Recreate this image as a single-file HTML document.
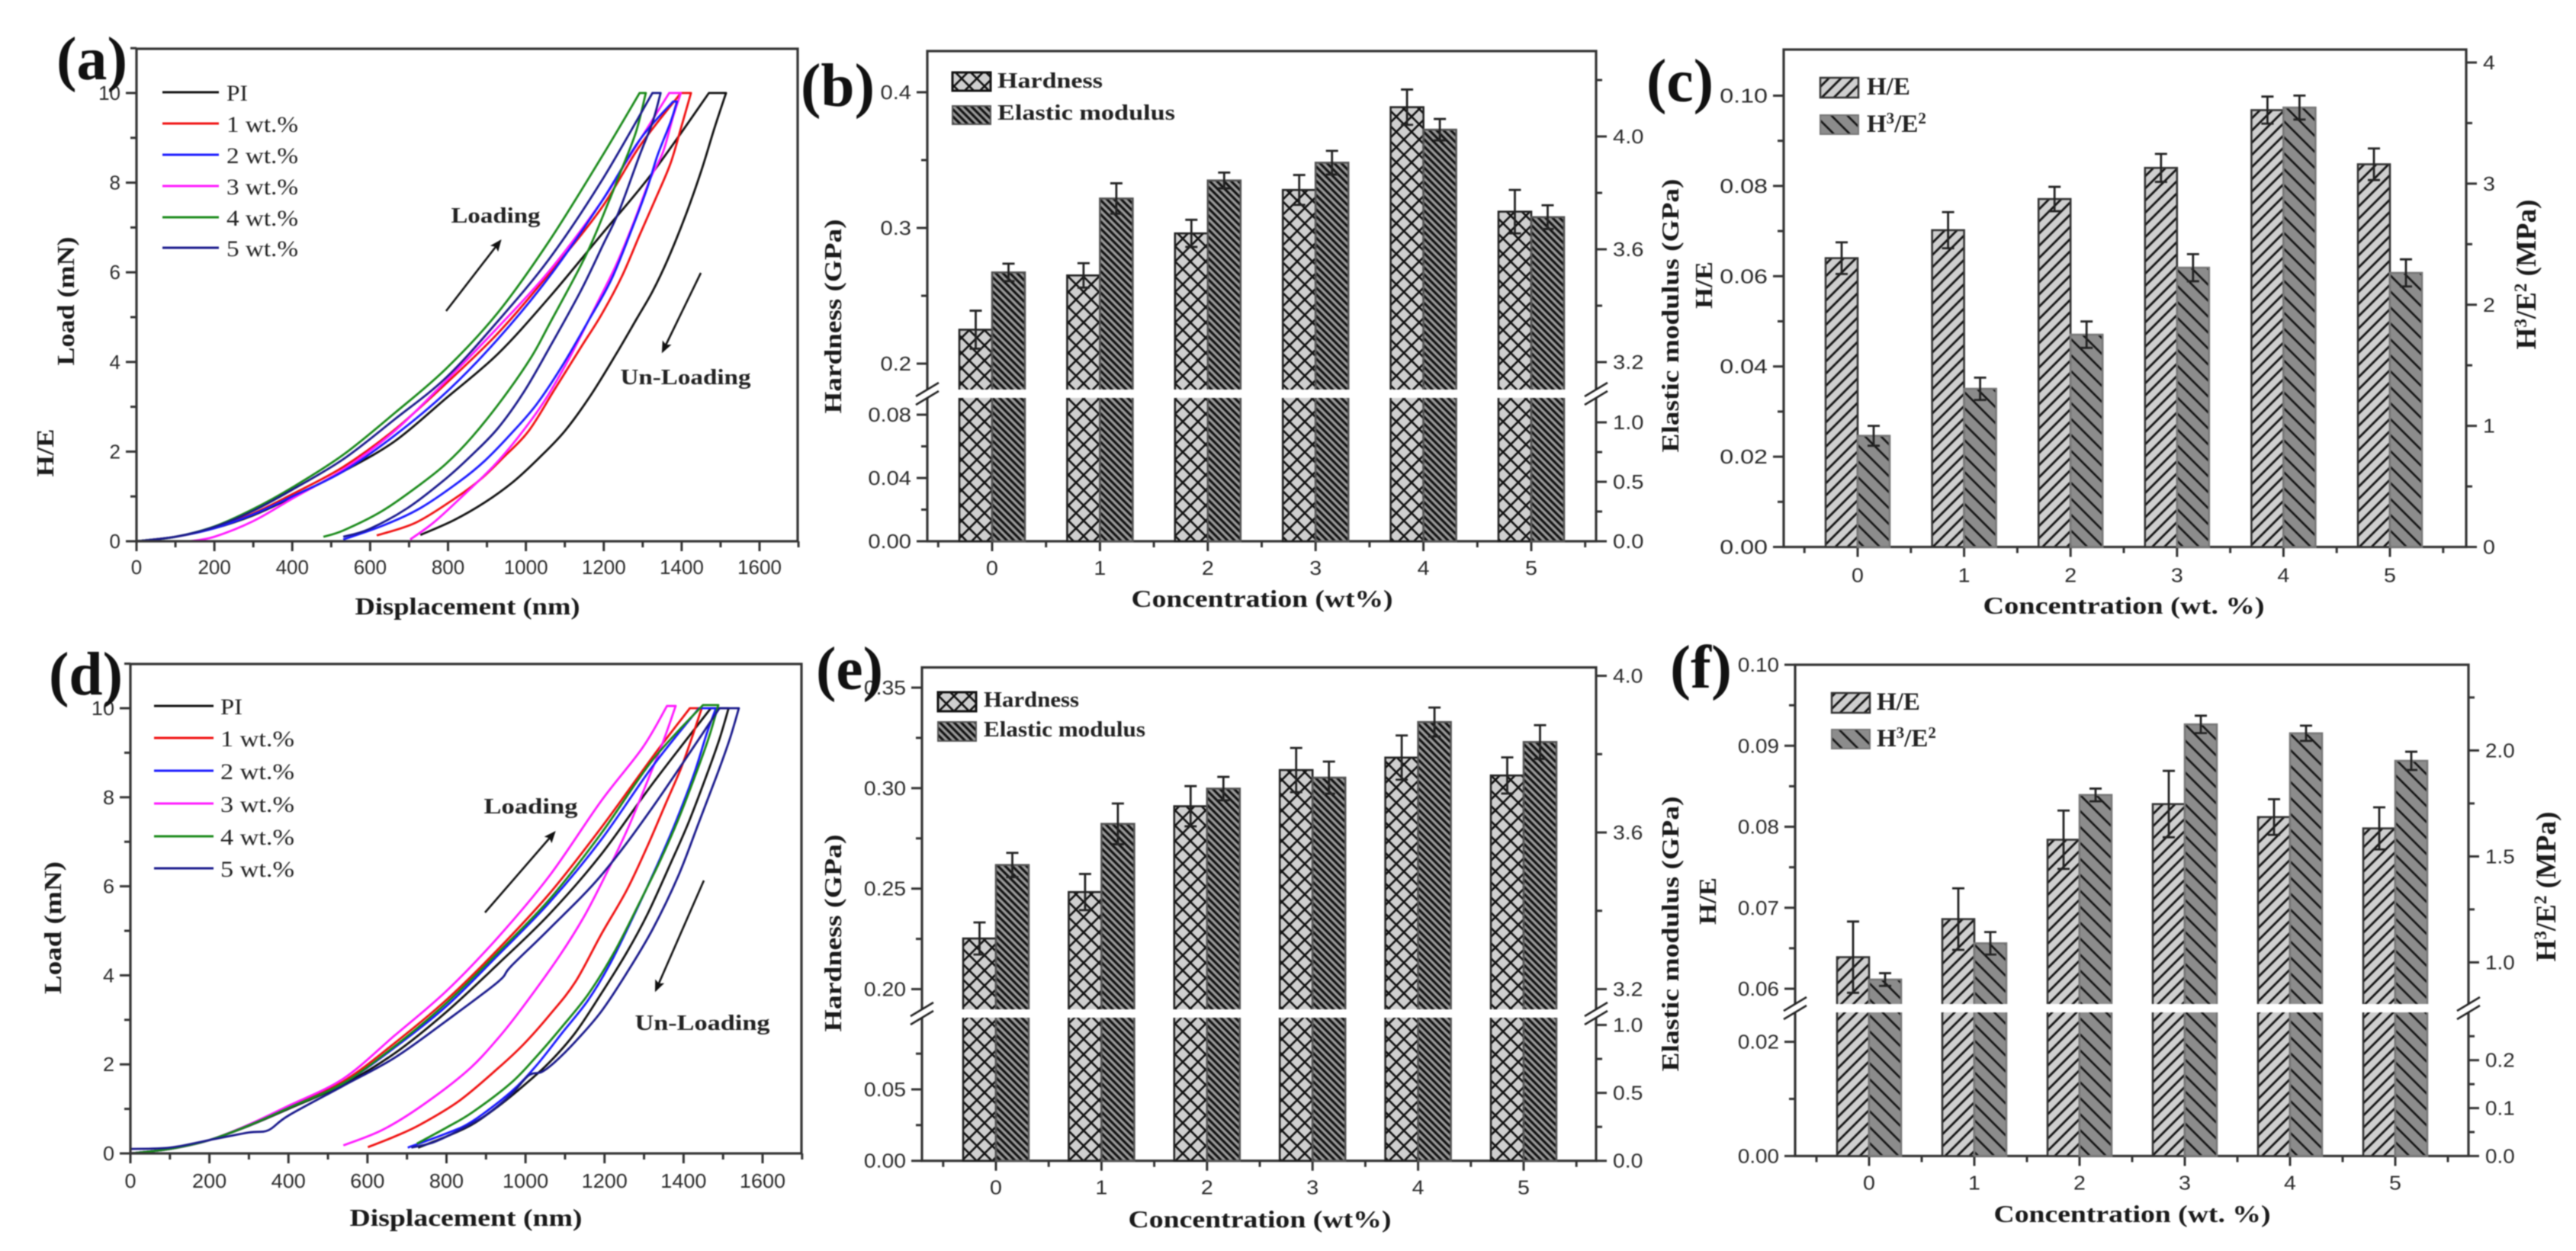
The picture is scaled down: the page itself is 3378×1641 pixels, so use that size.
<!DOCTYPE html>
<html lang="en">
<head>
<meta charset="utf-8">
<title>Nanoindentation load curves and mechanical properties</title>
<style>
html,body{margin:0;padding:0;background:#fff;width:3378px;height:1641px;overflow:hidden}
svg{display:block;filter:blur(0.8px)}
.title{font-family:"Liberation Serif",serif;font-weight:bold;font-size:32px;fill:#1a1a1a}
.title-wide{font-family:"Liberation Serif",serif;font-weight:bold;font-size:37px;fill:#1a1a1a}
.panel{font-family:"Liberation Serif",serif;font-weight:bold;font-size:80px;fill:#111}
.leg{font-family:"Liberation Serif",serif;font-size:30px;fill:#222}
.legb{font-family:"Liberation Serif",serif;font-weight:bold;font-size:29px;fill:#222}
.legr{font-family:"Liberation Serif",serif;font-weight:bold;font-size:33px;fill:#222}
.ann{font-family:"Liberation Serif",serif;font-weight:bold;font-size:29px;fill:#222}
.tick{font-family:"Liberation Sans",sans-serif;font-size:26px;fill:#2a2a2a}
</style>
</head>
<body>
<svg id="figure" xmlns="http://www.w3.org/2000/svg" width="3378" height="1641" viewBox="0 0 3378 1641">
<defs>
<pattern id="pCross" patternUnits="userSpaceOnUse" width="20" height="20" x="1" y="3">
<rect width="20" height="20" fill="#cfcfcf"/>
<path d="M0 0L20 20M20 0L0 20" stroke="#111" stroke-width="2.6" fill="none"/>
</pattern>
<pattern id="pDense" patternUnits="userSpaceOnUse" width="6.6" height="6.6" patternTransform="rotate(-45)">
<rect width="6.6" height="6.6" fill="#9a9a9a"/>
<line x1="3.3" y1="0" x2="3.3" y2="6.6" stroke="#111" stroke-width="3.2"/>
</pattern>
<pattern id="pFwd" patternUnits="userSpaceOnUse" width="11.3" height="11.3" patternTransform="rotate(45)">
<rect width="11.3" height="11.3" fill="#cfcfcf"/>
<line x1="5.6" y1="0" x2="5.6" y2="11.3" stroke="#111" stroke-width="2.8"/>
</pattern>
<pattern id="pBack" patternUnits="userSpaceOnUse" width="14.8" height="14.8" patternTransform="rotate(-45)">
<rect width="14.8" height="14.8" fill="#8c8c8c"/>
<line x1="7.4" y1="0" x2="7.4" y2="14.8" stroke="#111" stroke-width="2.6"/>
</pattern>
<marker id="arrowHead" markerWidth="6" markerHeight="6" refX="5" refY="2.5" orient="auto" markerUnits="strokeWidth">
<path d="M0 0L6 2.5L0 5L1.2 2.5Z" fill="#111"/>
</marker>
</defs>

<g id="panel-a"></g>
<g id="panel-b"></g>
<g id="panel-c"></g>
<g id="panel-d"></g>
<g id="panel-e"></g>
<g id="panel-f"></g>

<g>
<text class="panel" x="74" y="104" textLength="93" lengthAdjust="spacingAndGlyphs">(a)</text>
<text class="panel" x="1050" y="139" textLength="97" lengthAdjust="spacingAndGlyphs">(b)</text>
<text class="panel" x="2159" y="133" textLength="88" lengthAdjust="spacingAndGlyphs">(c)</text>
<text class="panel" x="64" y="911" textLength="97" lengthAdjust="spacingAndGlyphs">(d)</text>
<text class="panel" x="1070" y="904" textLength="88" lengthAdjust="spacingAndGlyphs">(e)</text>
<text class="panel" x="2190" y="902" textLength="81" lengthAdjust="spacingAndGlyphs">(f)</text>
</g>

<g>
<text class="title" x="613" y="806" text-anchor="middle" textLength="295" lengthAdjust="spacingAndGlyphs">Displacement (nm)</text>
<text class="title" transform="rotate(-90 97 395)" x="97" y="395" text-anchor="middle" textLength="169" lengthAdjust="spacingAndGlyphs">Load (mN)</text>
<text class="title" transform="rotate(-90 70 594)" x="70" y="594" text-anchor="middle" textLength="63" lengthAdjust="spacingAndGlyphs">H/E</text>

<text class="title" x="1655" y="796" text-anchor="middle" textLength="343" lengthAdjust="spacingAndGlyphs">Concentration (wt%)</text>
<text class="title" transform="rotate(-90 1103 415)" x="1103" y="415" text-anchor="middle" textLength="255" lengthAdjust="spacingAndGlyphs">Hardness (GPa)</text>
<text class="title" transform="rotate(-90 2201 414)" x="2201" y="414" text-anchor="middle" textLength="359" lengthAdjust="spacingAndGlyphs">Elastic modulus (GPa)</text>

<text class="title" x="2785" y="805" text-anchor="middle" textLength="369" lengthAdjust="spacingAndGlyphs">Concentration (wt. %)</text>
<text class="title" transform="rotate(-90 2245 374)" x="2245" y="374" text-anchor="middle" textLength="62" lengthAdjust="spacingAndGlyphs">H/E</text>
<text class="title-wide" transform="rotate(-90 3325 360)" x="3325" y="360" text-anchor="middle">H<tspan dy="-12" font-size="23">3</tspan><tspan dy="12">/E</tspan><tspan dy="-12" font-size="23">2</tspan><tspan dy="12"> (MPa)</tspan></text>

<text class="title" x="611" y="1608" text-anchor="middle" textLength="305" lengthAdjust="spacingAndGlyphs">Displacement (nm)</text>
<text class="title" transform="rotate(-90 80 1217)" x="80" y="1217" text-anchor="middle" textLength="174" lengthAdjust="spacingAndGlyphs">Load (mN)</text>

<text class="title" x="1652" y="1610" text-anchor="middle" textLength="345" lengthAdjust="spacingAndGlyphs">Concentration (wt%)</text>
<text class="title" transform="rotate(-90 1103 1224)" x="1103" y="1224" text-anchor="middle" textLength="259" lengthAdjust="spacingAndGlyphs">Hardness (GPa)</text>
<text class="title" transform="rotate(-90 2201 1225)" x="2201" y="1225" text-anchor="middle" textLength="361" lengthAdjust="spacingAndGlyphs">Elastic modulus (GPa)</text>

<text class="title" x="2796" y="1603" text-anchor="middle" textLength="363" lengthAdjust="spacingAndGlyphs">Concentration (wt. %)</text>
<text class="title" transform="rotate(-90 2250 1182)" x="2250" y="1182" text-anchor="middle" textLength="62" lengthAdjust="spacingAndGlyphs">H/E</text>
<text class="title-wide" transform="rotate(-90 3351 1163)" x="3351" y="1163" text-anchor="middle">H<tspan dy="-12" font-size="23">3</tspan><tspan dy="12">/E</tspan><tspan dy="-12" font-size="23">2</tspan><tspan dy="12"> (MPa)</tspan></text>
</g>

<g stroke-width="3" fill="none">
<line x1="213" y1="121" x2="287" y2="121" stroke="#111"/>
<line x1="213" y1="162" x2="287" y2="162" stroke="#f01010"/>
<line x1="213" y1="203" x2="287" y2="203" stroke="#1a1aff"/>
<line x1="213" y1="244" x2="287" y2="244" stroke="#ff19ff"/>
<line x1="213" y1="285" x2="287" y2="285" stroke="#1a8a1a"/>
<line x1="213" y1="325" x2="287" y2="325" stroke="#1a1a8c"/>
</g>
<g>
<text class="leg" x="297" y="132" textLength="28" lengthAdjust="spacingAndGlyphs">PI</text>
<text class="leg" x="297" y="173" textLength="94" lengthAdjust="spacingAndGlyphs">1 wt.%</text>
<text class="leg" x="297" y="214" textLength="94" lengthAdjust="spacingAndGlyphs">2 wt.%</text>
<text class="leg" x="297" y="255" textLength="94" lengthAdjust="spacingAndGlyphs">3 wt.%</text>
<text class="leg" x="297" y="296" textLength="94" lengthAdjust="spacingAndGlyphs">4 wt.%</text>
<text class="leg" x="297" y="336" textLength="94" lengthAdjust="spacingAndGlyphs">5 wt.%</text>
</g>

<g stroke-width="3" fill="none">
<line x1="202" y1="926" x2="280" y2="926" stroke="#111"/>
<line x1="202" y1="968" x2="280" y2="968" stroke="#f01010"/>
<line x1="202" y1="1011" x2="280" y2="1011" stroke="#1a1aff"/>
<line x1="202" y1="1054" x2="280" y2="1054" stroke="#ff19ff"/>
<line x1="202" y1="1097" x2="280" y2="1097" stroke="#1a8a1a"/>
<line x1="202" y1="1139" x2="280" y2="1139" stroke="#1a1a8c"/>
</g>
<g>
<text class="leg" x="289" y="937" textLength="29" lengthAdjust="spacingAndGlyphs">PI</text>
<text class="leg" x="289" y="979" textLength="97" lengthAdjust="spacingAndGlyphs">1 wt.%</text>
<text class="leg" x="289" y="1022" textLength="97" lengthAdjust="spacingAndGlyphs">2 wt.%</text>
<text class="leg" x="289" y="1065" textLength="97" lengthAdjust="spacingAndGlyphs">3 wt.%</text>
<text class="leg" x="289" y="1108" textLength="97" lengthAdjust="spacingAndGlyphs">4 wt.%</text>
<text class="leg" x="289" y="1150" textLength="97" lengthAdjust="spacingAndGlyphs">5 wt.%</text>
</g>

<g>
<text class="ann" x="650" y="292" text-anchor="middle" textLength="117" lengthAdjust="spacingAndGlyphs">Loading</text>
<text class="ann" x="899" y="504" text-anchor="middle" textLength="171" lengthAdjust="spacingAndGlyphs">Un-Loading</text>
<line x1="585" y1="408" x2="656" y2="316" stroke="#111" stroke-width="2.6" marker-end="url(#arrowHead)"/>
<line x1="919" y1="358" x2="869" y2="461" stroke="#111" stroke-width="2.6" marker-end="url(#arrowHead)"/>
<text class="ann" x="696" y="1067" text-anchor="middle" textLength="123" lengthAdjust="spacingAndGlyphs">Loading</text>
<text class="ann" x="921" y="1351" text-anchor="middle" textLength="177" lengthAdjust="spacingAndGlyphs">Un-Loading</text>
<line x1="636" y1="1197" x2="727" y2="1092" stroke="#111" stroke-width="2.6" marker-end="url(#arrowHead)"/>
<line x1="923" y1="1155" x2="860" y2="1299" stroke="#111" stroke-width="2.6" marker-end="url(#arrowHead)"/>
</g>

<g>
<rect x="1249" y="95" width="50" height="24" fill="url(#pCross)" stroke="#111" stroke-width="3"/>
<rect x="1249" y="139" width="50" height="24" fill="url(#pDense)" stroke="#555" stroke-width="2"/>
<text class="legb" x="1308" y="115" textLength="138" lengthAdjust="spacingAndGlyphs">Hardness</text>
<text class="legb" x="1308" y="157" textLength="233" lengthAdjust="spacingAndGlyphs">Elastic modulus</text>
</g>
<g>
<rect x="1230" y="908" width="50" height="25" fill="url(#pCross)" stroke="#111" stroke-width="3"/>
<rect x="1230" y="947" width="50" height="25" fill="url(#pDense)" stroke="#555" stroke-width="2"/>
<text class="legb" x="1290" y="927" textLength="125" lengthAdjust="spacingAndGlyphs">Hardness</text>
<text class="legb" x="1290" y="966" textLength="212" lengthAdjust="spacingAndGlyphs">Elastic modulus</text>
</g>
<g>
<rect x="2387" y="102" width="50" height="26" fill="url(#pFwd)" stroke="#333" stroke-width="2.5"/>
<rect x="2387" y="151" width="50" height="25" fill="url(#pBack)" stroke="#777" stroke-width="2"/>
<text class="legr" x="2448" y="124">H/E</text>
<text class="legr" x="2448" y="173">H<tspan dy="-11" font-size="21">3</tspan><tspan dy="11">/E</tspan><tspan dy="-11" font-size="21">2</tspan></text>
</g>
<g>
<rect x="2402" y="909" width="50" height="26" fill="url(#pFwd)" stroke="#333" stroke-width="2.5"/>
<rect x="2402" y="957" width="50" height="25" fill="url(#pBack)" stroke="#777" stroke-width="2"/>
<text class="legr" x="2461" y="931">H/E</text>
<text class="legr" x="2461" y="979">H<tspan dy="-11" font-size="21">3</tspan><tspan dy="11">/E</tspan><tspan dy="-11" font-size="21">2</tspan></text>
</g>
</svg>

<script>
/* ===== Panel (a) curves: displacement (nm) and load (mN) ===== */
const aPiDisp = [0,100,200,300,400,531,663,795,928,1060,1193,1325,1470,1514,1484,1451,1411,1365,1325,1285,1232,1166,1100,1034,968,895,815,729];
const aPiLoad = [0,0.1,0.29,0.58,0.98,1.56,2.23,3.19,4.18,5.44,6.83,8.22,10,10,9.21,8.28,7.29,6.3,5.57,4.97,4.18,3.25,2.46,1.86,1.33,0.87,0.47,0.14];
const a1Disp = [0,100,200,300,400,531,663,795,928,1060,1193,1292,1398,1424,1398,1371,1332,1292,1246,1193,1140,1074,1007,941,882,815,716,617];
const a1Load = [0,0.1,0.3,0.62,1.05,1.66,2.49,3.52,4.64,5.97,7.42,8.81,10,10,9.21,8.42,7.62,6.83,5.9,5.04,4.31,3.39,2.46,1.86,1.37,0.94,0.41,0.13];
const a2Disp = [0,100,200,300,400,531,663,795,928,1060,1193,1292,1378,1388,1371,1338,1312,1272,1219,1160,1093,1027,961,895,829,729,630,531];
const a2Load = [0,0.1,0.29,0.6,1,1.56,2.36,3.32,4.51,5.9,7.56,8.95,9.81,9.81,9.34,8.61,7.89,6.96,5.83,4.91,3.91,3.05,2.39,1.8,1.33,0.74,0.34,0.04];
const a3Disp = [136,200,300,400,531,663,795,928,1060,1193,1259,1368,1398,1378,1352,1319,1279,1232,1179,1113,1047,981,915,829,762,703];
const a3Load = [0,0.1,0.45,0.95,1.6,2.46,3.58,4.77,6.03,7.56,8.48,10,10,9.47,8.68,8.08,7.16,6.17,5.24,4.11,3.12,2.33,1.66,0.94,0.41,0.04];
const a4Disp = [0,100,200,300,400,531,663,795,928,1060,1193,1292,1308,1282,1239,1212,1153,1060,1014,941,862,795,729,630,531,480];
const a4Load = [0,0.1,0.33,0.72,1.2,1.93,2.86,3.85,5.1,6.7,8.55,10,10,9.11,8.15,7.56,6.36,4.84,4.11,3.19,2.33,1.73,1.27,0.67,0.24,0.1];
const a5Disp = [0,100,200,300,400,531,663,795,928,1060,1193,1325,1346,1325,1292,1239,1199,1140,1060,994,928,862,795,696,597,531];
const a5Load = [0,0.1,0.32,0.68,1.15,1.83,2.72,3.65,4.91,6.3,8.02,10,10,9.34,8.61,7.36,6.63,5.57,4.31,3.32,2.52,1.93,1.4,0.74,0.27,0.1];

/* ===== Panel (d) curves ===== */
const dPiDisp = [0,100,200,300,400,539,669,800,930,1061,1191,1322,1469,1514,1491,1459,1413,1367,1309,1256,1191,1126,1061,995,930,865,800,728];
const dPiLoad = [0,0.1,0.3,0.62,1,1.55,2.25,3.18,4.25,5.38,6.71,8.31,10,10,9.31,8.51,7.44,6.51,5.38,4.51,3.58,2.71,2.05,1.52,1.05,0.65,0.38,0.13];
const d1Disp = [0,100,200,300,400,539,669,800,930,1061,1191,1322,1416,1446,1420,1393,1354,1309,1256,1191,1126,1061,995,930,832,734,669,601];
const d1Load = [0,0.1,0.3,0.64,1.03,1.62,2.48,3.45,4.58,5.84,7.31,8.91,10,10,9.31,8.64,7.84,6.91,5.91,4.91,3.85,3.11,2.45,1.91,1.18,0.65,0.38,0.14];
const d2Disp = [0,100,200,300,400,539,669,800,930,1061,1191,1322,1439,1482,1459,1426,1380,1335,1283,1217,1159,1093,1028,963,865,800,702];
const d2Load = [0,0.1,0.3,0.63,1.02,1.58,2.38,3.31,4.45,5.64,7.04,8.7,10,10,9.44,8.51,7.44,6.51,5.51,4.31,3.45,2.71,1.98,1.38,0.72,0.45,0.13];
const d3Disp = [0,100,200,300,400,539,669,800,930,1061,1191,1296,1358,1380,1348,1309,1263,1217,1152,1087,995,930,852,734,636,539];
const d3Load = [0,0.1,0.3,0.65,1.07,1.68,2.65,3.65,4.85,6.24,7.91,9.11,10.05,10.05,9.24,8.37,7.38,6.51,5.38,4.45,3.31,2.58,1.85,1.05,0.52,0.18];
const d4Disp = [0,100,200,300,400,539,669,800,930,1061,1191,1322,1449,1488,1465,1433,1387,1341,1289,1224,1159,1093,1028,963,865,800,725];
const d4Load = [0,0.1,0.3,0.63,1.02,1.58,2.41,3.38,4.51,5.71,7.18,8.84,10.07,10.07,9.37,8.57,7.51,6.58,5.64,4.51,3.58,2.85,2.18,1.58,0.92,0.58,0.22];
const d5Disp = [0,100,200,300,349,400,539,669,800,930,963,1061,1191,1322,1491,1540,1517,1485,1439,1387,1322,1256,1191,1126,1074,1041,1008,963,898,832,767,711];
const d5Load = [0.1,0.13,0.3,0.47,0.52,0.85,1.52,2.15,2.98,3.85,4.2,5.05,6.24,7.78,10,10,9.31,8.51,7.44,6.24,5.04,4.05,3.18,2.51,2.05,1.83,1.75,1.32,0.85,0.52,0.25,0.13];

/* ===== Panel (b) bars ===== */
const bCategories = ['0','1','2','3','4','5'];
const bHardness = [0.225,0.265,0.296,0.328,0.389,0.312];
const bHardnessErr = [0.014,0.009,0.01,0.011,0.013,0.016];
const bModulus = [3.518,3.78,3.844,3.907,4.024,3.714];
const bModulusErr = [0.031,0.054,0.028,0.042,0.038,0.042];
const bLeftLabels = ['0.00','0.04','0.08','0.2','0.3','0.4'];
const bLeftMinor = [0.02,0.06,0.25,0.35];
const bRightLabels = ['0.0','0.5','1.0','3.2','3.6','4.0'];
const bRightMinor = [0.25,0.75,3.4,3.8,4.2];

/* ===== Panel (c) bars ===== */
const cCategories = ['0','1','2','3','4','5'];
const cHE = [0.064,0.0702,0.0771,0.084,0.0968,0.0848];
const cHEErr = [0.0035,0.004,0.0027,0.0031,0.003,0.0035];
const cH3E2 = [0.918,1.306,1.753,2.306,3.628,2.263];
const cH3E2Err = [0.082,0.092,0.109,0.112,0.099,0.112];
const cLeftLabels = ['0.00','0.02','0.04','0.06','0.08','0.10'];
const cLeftMinor = [0.01,0.03,0.05,0.07,0.09];
const cRightLabels = ['0','1','2','3','4'];
const cRightMinor = [0.5,1.5,2.5,3.5];

/* ===== Panel (e) bars ===== */
const eCategories = ['0','1','2','3','4','5'];
const eHardness = [0.2252,0.2483,0.291,0.309,0.3152,0.3063];
const eHardnessErr = [0.008,0.009,0.01,0.011,0.011,0.009];
const eModulus = [3.517,3.622,3.712,3.74,3.882,3.831];
const eModulusErr = [0.031,0.052,0.03,0.041,0.037,0.043];
const eLeftLabels = ['0.00','0.05','0.20','0.25','0.30','0.35'];
const eLeftMinor = [0.025,0.075,0.225,0.275,0.325];
const eRightLabels = ['0.0','0.5','1.0','3.2','3.6','4.0'];
const eRightMinor = [0.25,0.75,3.4,3.8];

/* ===== Panel (f) bars ===== */
const fCategories = ['0','1','2','3','4','5'];
const fHE = [0.0639,0.0686,0.0784,0.0828,0.0812,0.0798];
const fHEErr = [0.0044,0.0038,0.0036,0.0041,0.0022,0.0026];
const fH3E2 = [0.919,1.09,1.79,2.123,2.081,1.951];
const fH3E2Err = [0.03,0.053,0.03,0.041,0.036,0.043];
const fLeftLabels = ['0.00','0.02','0.06','0.07','0.08','0.09','0.10'];
const fLeftMinor = [0.01,0.065,0.075,0.085,0.095];
const fRightLabels = ['0.0','0.1','0.2','1.0','1.5','2.0'];
const fRightMinor = [0.05,0.15,0.25,1.25,1.75,2.25];

/* ===== Axis ticks for the load-displacement panels ===== */
const dispLabels = ['0','200','400','600','800','1000','1200','1400','1600'];
const dispMinor = [100,300,500,700,900,1100,1300,1500,1700];
const loadLabels = ['0','2','4','6','8','10'];
const loadMinor = [1,3,5,7,9,11];

const NS = 'http://www.w3.org/2000/svg';
function mk(tag, attrs, parent) {
  const el = document.createElementNS(NS, tag);
  for (const k in attrs) el.setAttribute(k, attrs[k]);
  parent.appendChild(el);
  return el;
}
function linear(v0, p0, v1, p1) {
  return function (v) { return p0 + (v - v0) * (p1 - p0) / (v1 - v0); };
}
function broken(lower, upper, threshold) {
  return function (v) { return v >= threshold ? upper(v) : lower(v); };
}
function labelWidth(s, stretch) {
  let w = 0;
  for (const ch of s) w += ch === '.' ? 0.278 : 0.556;
  return w * 26 * stretch;
}
function drawYAxis(g, side, x, scale, labels, minors, stretch, key) {
  const dir = side === 'left' ? -1 : 1;
  labels.forEach(function (s) {
    const y = scale(Number(s));
    const t = mk('line', {x1: x, y1: y, x2: x + dir * 14, y2: y, stroke: '#333', 'stroke-width': 3}, g);
    
    
    const w = labelWidth(s, stretch);
    const lx = side === 'left' ? x - 21 - w : x + 22;
    const l = mk('text', {x: lx, y: y + 9, 'class': 'tick', textLength: w, lengthAdjust: 'spacingAndGlyphs'}, g);
    l.textContent = s;
    
    
  });
  minors.forEach(function (v) {
    const y = scale(v);
    const t = mk('line', {x1: x, y1: y, x2: x + dir * 8, y2: y, stroke: '#333', 'stroke-width': 3}, g);
    
    
  });
}
function drawXTicks(g, y, xScale, labels, minors, stretch, labelDy, key) {
  labels.forEach(function (s, i) {
    const v = key.indexOf('disp') >= 0 ? Number(s) : i;
    const x = xScale(v);
    const t = mk('line', {x1: x, y1: y, x2: x, y2: y + 13, stroke: '#333', 'stroke-width': 3}, g);
    
    
    const w = labelWidth(s, stretch);
    const l = mk('text', {x: x - w / 2, y: y + labelDy, 'class': 'tick', textLength: w, lengthAdjust: 'spacingAndGlyphs'}, g);
    l.textContent = s;
    
    
  });
  minors.forEach(function (v) {
    const x = xScale(v);
    const t = mk('line', {x1: x, y1: y, x2: x, y2: y + 8, stroke: '#333', 'stroke-width': 3}, g);
    
    
  });
}
function drawFrame(g, box, key) {
  const f = mk('rect', {x: box.left, y: box.top, width: box.right - box.left, height: box.bottom - box.top, fill: 'none', stroke: '#333', 'stroke-width': 3.2}, g);
  
  
}
function spline(pts) {
  let d = '';
  for (let i = 0; i < pts.length - 1; i++) {
    const p0 = pts[Math.max(i - 1, 0)], p1 = pts[i], p2 = pts[i + 1], p3 = pts[Math.min(i + 2, pts.length - 1)];
    d += 'C' + (p1[0] + (p2[0] - p0[0]) / 6) + ' ' + (p1[1] + (p2[1] - p0[1]) / 6) + ' ' +
         (p2[0] - (p3[0] - p1[0]) / 6) + ' ' + (p2[1] - (p3[1] - p1[1]) / 6) + ' ' + p2[0] + ' ' + p2[1];
  }
  return d;
}
function drawCurve(g, xs, ys, xScale, yScale, color, name) {
  const pts = xs.map(function (x, i) { return [xScale(x), yScale(ys[i])]; });
  const peak = Math.max.apply(null, ys);
  const first = ys.indexOf(peak), last = ys.lastIndexOf(peak);
  let d = 'M' + pts[0][0] + ' ' + pts[0][1];
  d += spline(pts.slice(0, first + 1));
  d += 'L' + pts[last][0] + ' ' + pts[last][1];
  d += spline(pts.slice(last));
  const p = mk('path', {d: d, fill: 'none', stroke: color, 'stroke-width': 2.8, 'stroke-linejoin': 'round'}, g);
  
  
}
function drawBars(g, xScale, yScale, bottom, values, errs, width, offset, fill, stroke, key) {
  values.forEach(function (v, i) {
    const x = xScale(i) + offset;
    const y = yScale(v);
    const r = mk('rect', {x: x, y: y, width: width, height: bottom - y, fill: fill, stroke: stroke, 'stroke-width': 2.6}, g);
    
    
  });
  values.forEach(function (v, i) {
    const cx = xScale(i) + offset + width / 2;
    const hi = yScale(v + errs[i]), lo = yScale(v - errs[i]);
    const e = mk('path', {d: 'M' + cx + ' ' + hi + 'V' + lo + 'M' + (cx - 8) + ' ' + hi + 'H' + (cx + 8) + 'M' + (cx - 8) + ' ' + lo + 'H' + (cx + 8), fill: 'none', stroke: '#222', 'stroke-width': 2.8}, g);
    
    
  });
}
function drawBreak(g, box, top, bot, color, key) {
  const band = mk('rect', {x: box.left - 3, y: top, width: box.right - box.left + 6, height: bot - top, fill: color}, g);
  
  
  [box.left, box.right].forEach(function (x) {
    [top, bot].forEach(function (y) {
      const s = mk('line', {x1: x - 15, y1: y + 9, x2: x + 15, y2: y - 9, stroke: '#222', 'stroke-width': 2.6}, g);
      
      
    });
  });
}

/* ----- Panel a ----- */
(function () {
  const g = document.getElementById('panel-a');
  const box = {left: 179, right: 1046, top: 64, bottom: 710};
  const xS = linear(0, 179, 1600, 996);
  const yS = linear(0, 710, 10, 122);
  drawCurve(g, aPiDisp, aPiLoad, xS, yS, '#111', 'curve-a-pi');
  drawCurve(g, a1Disp, a1Load, xS, yS, '#f01010', 'curve-a-1wt');
  drawCurve(g, a3Disp, a3Load, xS, yS, '#ff19ff', 'curve-a-3wt');
  drawCurve(g, a2Disp, a2Load, xS, yS, '#1a1aff', 'curve-a-2wt');
  drawCurve(g, a4Disp, a4Load, xS, yS, '#1a8a1a', 'curve-a-4wt');
  drawCurve(g, a5Disp, a5Load, xS, yS, '#1a1a8c', 'curve-a-5wt');
  drawFrame(g, box, 'a');
  drawYAxis(g, 'left', box.left, yS, loadLabels, loadMinor, 1, 'a-load');
  drawXTicks(g, box.bottom, xS, dispLabels, dispMinor, 1, 43, 'a-disp');
})();

/* ----- Panel d ----- */
(function () {
  const g = document.getElementById('panel-d');
  const box = {left: 171, right: 1051, top: 871, bottom: 1513};
  const xS = linear(0, 171, 1600, 1000);
  const yS = linear(0, 1513, 10, 929);
  drawCurve(g, dPiDisp, dPiLoad, xS, yS, '#111', 'curve-d-pi');
  drawCurve(g, d1Disp, d1Load, xS, yS, '#f01010', 'curve-d-1wt');
  drawCurve(g, d3Disp, d3Load, xS, yS, '#ff19ff', 'curve-d-3wt');
  drawCurve(g, d2Disp, d2Load, xS, yS, '#1a1aff', 'curve-d-2wt');
  drawCurve(g, d4Disp, d4Load, xS, yS, '#1a8a1a', 'curve-d-4wt');
  drawCurve(g, d5Disp, d5Load, xS, yS, '#1a1a8c', 'curve-d-5wt');
  drawFrame(g, box, 'd');
  drawYAxis(g, 'left', box.left, yS, loadLabels, loadMinor, 1.04, 'd-load');
  drawXTicks(g, box.bottom, xS, dispLabels, dispMinor, 1.04, 45, 'd-disp');
})();

/* ----- Panel b ----- */
(function () {
  const g = document.getElementById('panel-b');
  const box = {left: 1216, right: 2093, top: 67, bottom: 710};
  const xS = linear(0, 1301, 5, 2008);
  const leftS = broken(linear(0, 710, 0.08, 544), linear(0.2, 477, 0.4, 121), 0.14);
  const rightS = broken(linear(0, 710, 1, 554), linear(3.2, 475, 4, 179), 2);
  const midMinor = [-0.5, 0.5, 1.5, 2.5, 3.5, 4.5, 5.5];
  drawFrame(g, box, 'b');
  drawYAxis(g, 'left', box.left, leftS, bLeftLabels, bLeftMinor, 1.12, 'b-left');
  drawYAxis(g, 'right', box.right, rightS, bRightLabels, bRightMinor, 1.12, 'b-right');
  drawXTicks(g, box.bottom, xS, bCategories, midMinor, 1.1, 44, 'b-cat');
  drawBars(g, xS, leftS, box.bottom, bHardness, bHardnessErr, 43, -43, 'url(#pCross)', '#222', 'hardness-b');
  drawBars(g, xS, rightS, box.bottom, bModulus, bModulusErr, 43, 0, 'url(#pDense)', '#555', 'modulus-b');
  drawBreak(g, box, 511, 522, '#ffffff', 'b');
})();

/* ----- Panel c ----- */
(function () {
  const g = document.getElementById('panel-c');
  const box = {left: 2339, right: 3234, top: 65, bottom: 717.5};
  const xS = linear(0, 2436, 5, 3134);
  const leftS = linear(0, 717.5, 0.1, 125.5);
  const rightS = linear(0, 717.5, 4, 82);
  const midMinor = [-0.5, 0.5, 1.5, 2.5, 3.5, 4.5, 5.5];
  drawFrame(g, box, 'c');
  drawYAxis(g, 'left', box.left, leftS, cLeftLabels, cLeftMinor, 1.24, 'c-left');
  drawYAxis(g, 'right', box.right, rightS, cRightLabels, cRightMinor, 1.1, 'c-right');
  drawXTicks(g, box.bottom, xS, cCategories, midMinor, 1.1, 46, 'c-cat');
  drawBars(g, xS, leftS, box.bottom, cHE, cHEErr, 42, -42, 'url(#pFwd)', '#333', 'he-c');
  drawBars(g, xS, rightS, box.bottom, cH3E2, cH3E2Err, 42, 0, 'url(#pBack)', '#777', 'h3e2-c');
})();

/* ----- Panel e ----- */
(function () {
  const g = document.getElementById('panel-e');
  const box = {left: 1209, right: 2093, top: 875.5, bottom: 1522.7};
  const xS = linear(0, 1306, 5, 1998);
  const leftS = broken(linear(0, 1522.7, 0.05, 1429), linear(0.2, 1297.5, 0.35, 902), 0.14);
  const rightS = broken(linear(0, 1522.7, 0.5, 1433.6), linear(3.2, 1297.5, 4, 886.5), 2);
  const midMinor = [-0.5, 0.5, 1.5, 2.5, 3.5, 4.5, 5.5];
  drawFrame(g, box, 'e');
  drawYAxis(g, 'left', box.left, leftS, eLeftLabels, eLeftMinor, 1.09, 'e-left');
  drawYAxis(g, 'right', box.right, rightS, eRightLabels, eRightMinor, 1.09, 'e-right');
  drawXTicks(g, box.bottom, xS, eCategories, midMinor, 1.1, 44, 'e-cat');
  drawBars(g, xS, leftS, box.bottom, eHardness, eHardnessErr, 43, -43, 'url(#pCross)', '#222', 'hardness-e');
  drawBars(g, xS, rightS, box.bottom, eModulus, eModulusErr, 43, 0, 'url(#pDense)', '#555', 'modulus-e');
  drawBreak(g, box, 1324, 1335, '#ffffff', 'e');
})();

/* ----- Panel f ----- */
(function () {
  const g = document.getElementById('panel-f');
  const box = {left: 2354, right: 3237, top: 872, bottom: 1516.4};
  const xS = linear(0, 2451, 5, 3141);
  const leftS = broken(linear(0, 1516.4, 0.02, 1366.6), linear(0.06, 1297, 0.1, 872), 0.04);
  const rightS = broken(linear(0, 1516.4, 0.2, 1390.7), linear(1, 1262.4, 2, 984.4), 0.5);
  const midMinor = [-0.5, 0.5, 1.5, 2.5, 3.5, 4.5, 5.5];
  drawFrame(g, box, 'f');
  drawYAxis(g, 'left', box.left, leftS, fLeftLabels, fLeftMinor, 1.07, 'f-left');
  drawYAxis(g, 'right', box.right, rightS, fRightLabels, fRightMinor, 1.07, 'f-right');
  drawXTicks(g, box.bottom, xS, fCategories, midMinor, 1.1, 44, 'f-cat');
  drawBars(g, xS, leftS, box.bottom, fHE, fHEErr, 42, -42, 'url(#pFwd)', '#333', 'he-f');
  drawBars(g, xS, rightS, box.bottom, fH3E2, fH3E2Err, 42, 0, 'url(#pBack)', '#777', 'h3e2-f');
  drawBreak(g, box, 1317, 1328, '#ffffff', 'f');
})();
</script>
</body>
</html>
